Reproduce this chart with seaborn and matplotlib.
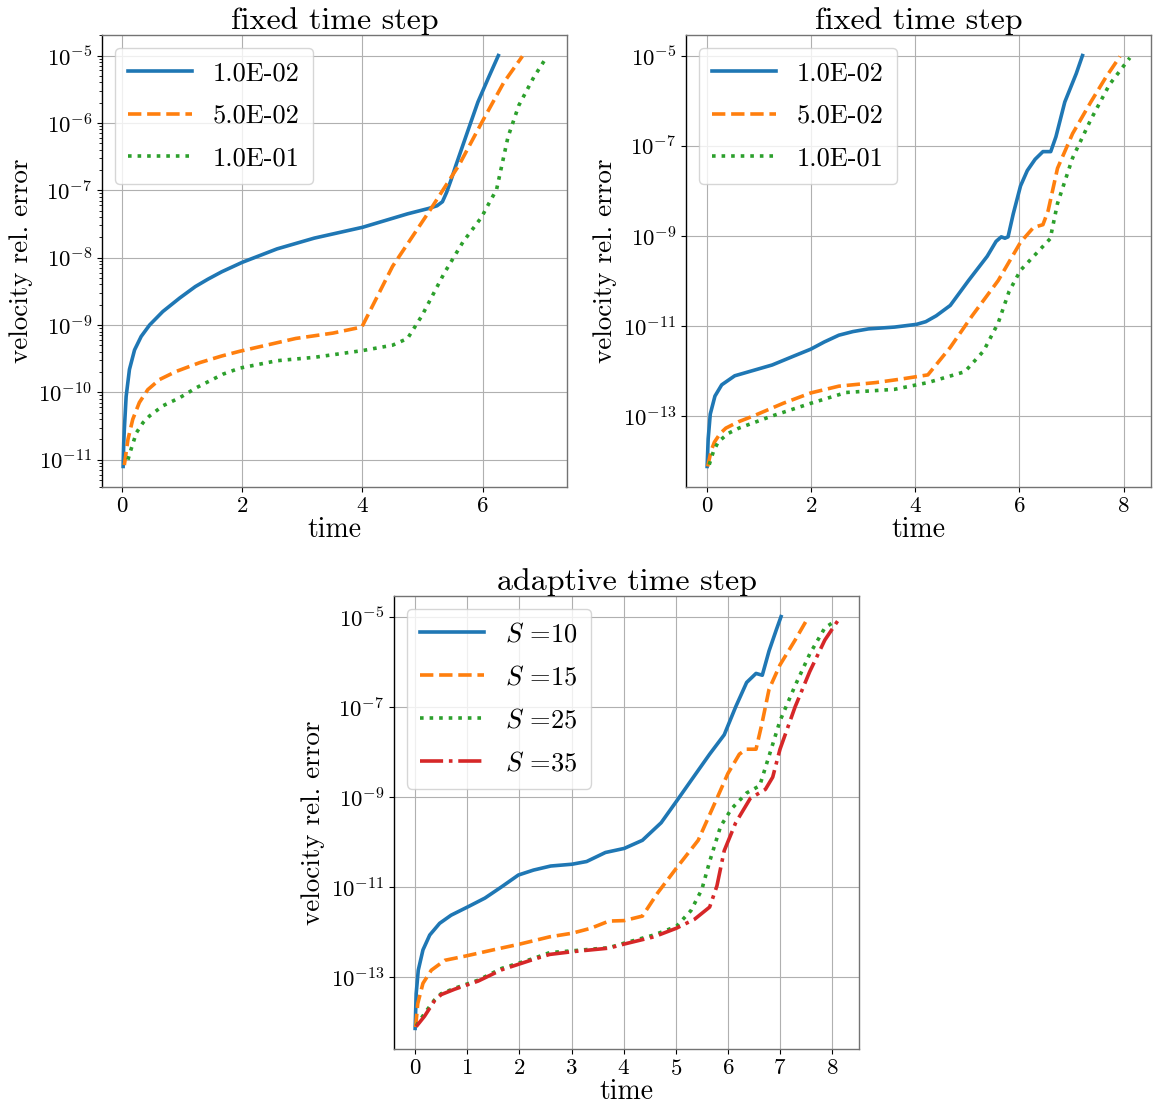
import numpy as np
import pandas as pd
import matplotlib
matplotlib.use("Agg")
import matplotlib.pyplot as plt
from matplotlib.ticker import MultipleLocator
import seaborn as sns

# ---------------- data (log10 of velocity rel. error) ----------------
# top-left: fixed time step
tl_dt1_t = [0.02, 0.03, 0.04, 0.07, 0.125, 0.21, 0.32, 0.46, 0.68, 0.96, 1.22, 1.43, 1.66, 2.0, 2.58, 3.2, 4.0, 4.75, 5.1, 5.24, 5.33, 5.4, 5.48, 5.55, 5.74, 5.92, 6.1, 6.26]
tl_dt1_e = [-11.1, -10.75, -10.55, -10.06, -9.66, -9.37, -9.17, -9.0, -8.8, -8.6, -8.43, -8.32, -8.21, -8.07, -7.87, -7.71, -7.55, -7.35, -7.27, -7.23, -7.17, -7.03, -6.83, -6.64, -6.15, -5.69, -5.32, -5.0]
tl_dt2_t = [0.04, 0.1, 0.18, 0.29, 0.43, 0.625, 0.9, 1.29, 1.66, 1.96, 2.89, 3.51, 3.99, 4.5, 5.12, 5.61, 5.98, 6.35, 6.66]
tl_dt2_e = [-11.08, -10.7, -10.4, -10.15, -9.96, -9.81, -9.69, -9.56, -9.46, -9.39, -9.2, -9.12, -9.03, -8.13, -7.3, -6.62, -6.0, -5.4, -5.01]
tl_dt3_t = [0.1, 0.15, 0.24, 0.35, 0.46, 0.68, 0.96, 1.24, 1.68, 1.96, 2.58, 3.2, 4.0, 4.5, 4.75, 4.99, 5.36, 5.67, 5.98, 6.1, 6.23, 6.42, 6.6, 6.85, 7.05]
tl_dt3_e = [-11.0, -10.85, -10.6, -10.45, -10.35, -10.2, -10.08, -9.93, -9.73, -9.64, -9.53, -9.48, -9.38, -9.3, -9.2, -8.86, -8.23, -7.77, -7.4, -7.2, -6.99, -6.21, -5.74, -5.32, -5.04]

# top-right: fixed time step
tr_dt1_t = [0.0, 0.02, 0.06, 0.15, 0.28, 0.53, 0.89, 1.25, 1.67, 1.99, 2.25, 2.53, 2.8, 3.1, 3.6, 4.02, 4.2, 4.4, 4.67, 5.02, 5.38, 5.55, 5.65, 5.72, 5.78, 5.88, 6.02, 6.15, 6.3, 6.45, 6.6, 6.7, 6.87, 7.09, 7.21]
tr_dt1_e = [-14.11, -13.5, -12.95, -12.55, -12.3, -12.1, -11.98, -11.86, -11.66, -11.51, -11.35, -11.2, -11.12, -11.06, -11.02, -10.96, -10.9, -10.77, -10.54, -9.99, -9.45, -9.12, -9.02, -9.05, -9.02, -8.51, -7.89, -7.55, -7.3, -7.13, -7.13, -6.8, -6.03, -5.4, -5.0]
tr_dt2_t = [0.01, 0.08, 0.14, 0.25, 0.36, 0.6, 0.89, 1.46, 1.99, 2.53, 3.24, 3.74, 4.24, 4.67, 5.09, 5.59, 6.02, 6.27, 6.45, 6.55, 6.73, 7.02, 7.37, 7.66, 7.93]
tr_dt2_e = [-14.11, -13.75, -13.57, -13.38, -13.26, -13.12, -12.99, -12.71, -12.48, -12.33, -12.25, -12.17, -12.08, -11.47, -10.77, -9.99, -9.14, -8.81, -8.75, -8.44, -7.5, -6.73, -6.03, -5.48, -5.02]
tr_dt3_t = [0.04, 0.12, 0.21, 0.4, 0.61, 1.25, 1.99, 2.67, 3.6, 4.24, 4.95, 5.31, 5.59, 5.8, 6.02, 6.37, 6.59, 6.73, 7.02, 7.37, 7.73, 8.12]
tr_dt3_e = [-14.07, -13.78, -13.57, -13.38, -13.26, -12.99, -12.71, -12.47, -12.4, -12.25, -12.01, -11.55, -10.93, -10.23, -9.76, -9.33, -9.06, -8.28, -7.27, -6.42, -5.64, -5.05]

# bottom: adaptive time step
ad_s10_t = [0.0, 0.02, 0.06, 0.15, 0.28, 0.47, 0.69, 1.02, 1.34, 1.66, 1.98, 2.27, 2.6, 3.01, 3.29, 3.65, 4.01, 4.36, 4.72, 5.01, 5.29, 5.65, 5.93, 6.15, 6.36, 6.54, 6.66, 6.79, 6.93, 7.02]
ad_s10_e = [-14.13, -13.36, -12.84, -12.39, -12.06, -11.8, -11.62, -11.43, -11.24, -10.99, -10.73, -10.62, -10.53, -10.49, -10.43, -10.23, -10.14, -9.96, -9.57, -9.1, -8.64, -8.05, -7.62, -7.0, -6.46, -6.26, -6.3, -5.76, -5.29, -5.0]
ad_s15_t = [0.01, 0.05, 0.15, 0.31, 0.57, 0.95, 1.53, 2.01, 2.58, 3.01, 3.37, 3.72, 4.01, 4.36, 4.65, 5.01, 5.43, 5.79, 6.0, 6.22, 6.36, 6.54, 6.65, 6.79, 7.0, 7.29, 7.54]
ad_s15_e = [-14.1, -13.58, -13.13, -12.84, -12.62, -12.53, -12.38, -12.26, -12.1, -12.02, -11.91, -11.75, -11.74, -11.64, -11.13, -10.58, -9.96, -9.03, -8.48, -8.05, -7.94, -7.94, -7.39, -6.61, -6.07, -5.52, -5.02]
ad_s25_t = [0.02, 0.18, 0.37, 0.5, 0.76, 1.21, 1.66, 2.27, 2.58, 3.01, 3.72, 4.01, 4.58, 5.01, 5.29, 5.5, 5.65, 5.86, 6.07, 6.36, 6.61, 6.79, 7.0, 7.29, 7.57, 7.86, 8.03]
ad_s25_e = [-14.07, -13.8, -13.5, -13.36, -13.24, -13.06, -12.8, -12.58, -12.45, -12.41, -12.34, -12.24, -12.06, -11.87, -11.52, -11.05, -10.43, -9.65, -9.26, -8.91, -8.75, -8.09, -7.31, -6.53, -5.83, -5.25, -5.12]
ad_s35_t = [0.02, 0.18, 0.37, 0.5, 0.76, 1.21, 1.66, 2.27, 2.58, 3.01, 3.72, 4.01, 4.58, 5.01, 5.36, 5.65, 5.79, 5.93, 6.15, 6.43, 6.72, 6.86, 7.0, 7.29, 7.57, 7.86, 8.11]
ad_s35_e = [-14.09, -13.86, -13.52, -13.38, -13.26, -13.08, -12.83, -12.6, -12.49, -12.43, -12.35, -12.26, -12.1, -11.91, -11.71, -11.44, -10.97, -10.19, -9.57, -9.03, -8.83, -8.56, -7.94, -7.0, -6.22, -5.52, -5.09]

fixed_labels = ["1.0E-02", "5.0E-02", "1.0E-01"]
adaptive_labels = [r"$S$ =10", r"$S$ =15", r"$S$ =25", r"$S$ =35"]
titles = ["fixed time step", "fixed time step", "adaptive time step"]
xlabel = "time"
ylabel = "velocity rel. error"

colors = ["#1f77b4", "#ff7f0e", "#2ca02c", "#d62728"]
styles = ["-", "--", ":", "-."]

# ---------------- style ----------------
plt.rcParams.update({
    "font.family": "serif",
    "font.serif": ["cmr10", "DejaVu Serif"],
    "mathtext.fontset": "cm",
    "axes.formatter.use_mathtext": True,
    "axes.unicode_minus": False,
})

W, H = 1156, 1111
fig = plt.figure(figsize=(W / 100, H / 100), dpi=100)
ax1 = fig.add_axes([102 / W, 1 - 487 / H, 465 / W, 452 / H])
ax2 = fig.add_axes([686 / W, 1 - 487 / H, 465 / W, 452 / H])
ax3 = fig.add_axes([394 / W, 1 - 1049 / H, 465 / W, 453 / H])

panels = [
    (ax1, [(tl_dt1_t, tl_dt1_e), (tl_dt2_t, tl_dt2_e), (tl_dt3_t, tl_dt3_e)], fixed_labels),
    (ax2, [(tr_dt1_t, tr_dt1_e), (tr_dt2_t, tr_dt2_e), (tr_dt3_t, tr_dt3_e)], fixed_labels),
    (ax3, [(ad_s10_t, ad_s10_e), (ad_s15_t, ad_s15_e), (ad_s25_t, ad_s25_e), (ad_s35_t, ad_s35_e)], adaptive_labels),
]

for i, (ax, series, labels) in enumerate(panels):
    for k, ((t, e), lab) in enumerate(zip(series, labels)):
        df = pd.DataFrame({"time": t, "err": np.power(10.0, e)})
        sns.lineplot(data=df, x="time", y="err", ax=ax, label=lab,
                     color=colors[k], linestyle=styles[k], linewidth=2.6,
                     estimator=None, sort=False)
    ax.set_yscale("log")
    ax.grid(True, color="#b0b0b0", linewidth=0.8)
    ax.set_axisbelow(True)
    ax.set_title(titles[i], fontsize=23, pad=4)
    ax.set_xlabel(xlabel, fontsize=20, labelpad=0)
    ax.set_ylabel(ylabel, fontsize=19.5, labelpad=4)
    ax.tick_params(axis="both", which="major", labelsize=16.5)
    for side in ["top", "right", "bottom"]:
        ax.spines[side].set_color("0.45")
    ax.spines["left"].set_color("black")
    for s in ax.spines.values():
        s.set_linewidth(1.0)
    ax.legend(loc="upper left", fontsize=19, handlelength=2.4,
              borderpad=0.5, labelspacing=0.72, handletextpad=0.8)

ax3.xaxis.set_major_locator(MultipleLocator(1))

fig.savefig("out.png", dpi=100)
